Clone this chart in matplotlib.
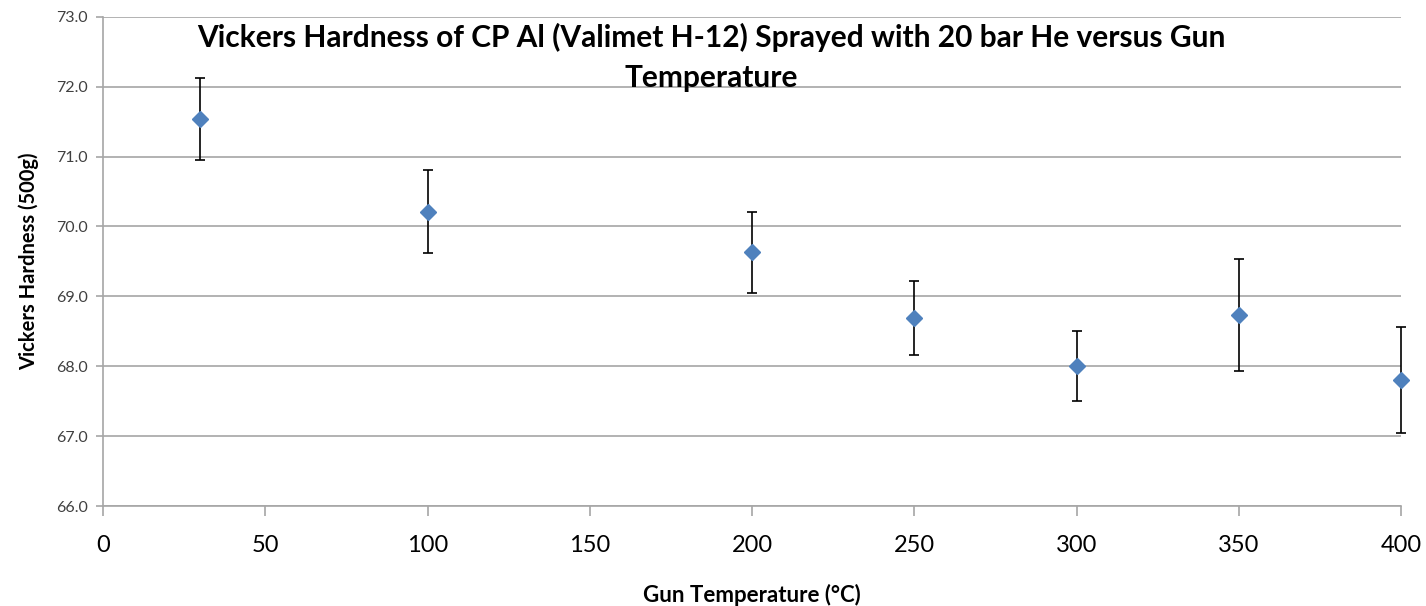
import matplotlib
matplotlib.use("Agg")
import matplotlib.pyplot as plt

temps = [30, 100, 200, 250, 300, 350, 400]
hardness = [71.54, 70.21, 69.63, 68.69, 68.00, 68.73, 67.80]
errors = [0.585, 0.596, 0.576, 0.527, 0.497, 0.80, 0.754]
xticks = [0, 50, 100, 150, 200, 250, 300, 350, 400]
yticks = [66.0, 67.0, 68.0, 69.0, 70.0, 71.0, 72.0, 73.0]

plt.rcParams['font.family'] = ['Lato', 'DejaVu Sans']

fig = plt.figure(figsize=(14.26, 6.06), dpi=100)
ax = fig.add_axes([103/1426, 1-506/606, (1401-103)/1426, (506-16.7)/606])

ax.errorbar(temps, hardness, yerr=errors, fmt='D', color='#4F81BD', ms=8.5,
            mec='#4F81BD', ecolor='black', elinewidth=1.2, capsize=3.5,
            capthick=1.2, zorder=3, clip_on=False)

ax.set_xlim(0, 400)
ax.set_ylim(66, 73)
ax.set_xticks(xticks)
ax.set_yticks(yticks)
ax.set_yticklabels([f"{v:.1f}" for v in yticks], fontsize=11.5, color='#404040')
ax.set_xticklabels([str(v) for v in xticks], fontsize=17, color='black')
ax.yaxis.grid(True, color='#a6a6a6', lw=1.2)
ax.set_axisbelow(True)
for s in ['top', 'right']:
    ax.spines[s].set_visible(False)
for s in ['left', 'bottom']:
    ax.spines[s].set_color('#a6a6a6')
    ax.spines[s].set_linewidth(1.2)
ax.tick_params(axis='x', direction='out', length=7, color='#a6a6a6', width=1.2, pad=14)
ax.tick_params(axis='y', direction='out', length=5, color='#a6a6a6', width=1.2, pad=6)

ax.set_xlabel('Gun Temperature (°C)', fontsize=16, fontweight='bold', labelpad=20)
ax.set_ylabel('Vickers Hardness (500g)', fontsize=14.5, fontweight='bold', labelpad=12)

fig.text(711/1426, 1-47/606, 'Vickers Hardness of CP Al (Valimet H-12) Sprayed with 20 bar He versus Gun',
         ha='center', va='baseline', fontsize=21.5, fontweight='bold')
fig.text(711/1426, 1-87/606, 'Temperature',
         ha='center', va='baseline', fontsize=21.5, fontweight='bold')

fig.savefig('out.png', dpi=100)
